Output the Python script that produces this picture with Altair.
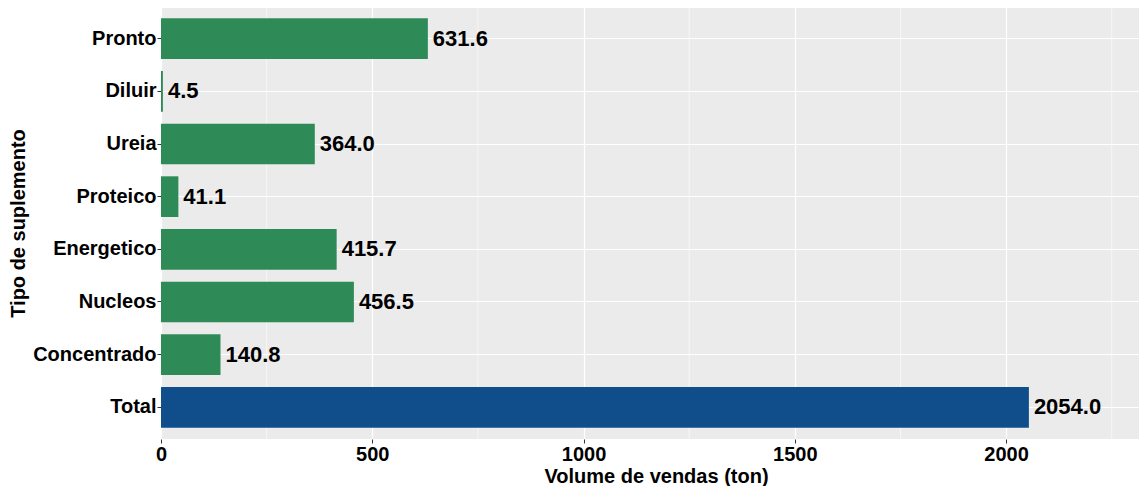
import altair as alt
import pandas as pd

categories = ["Pronto", "Diluir", "Ureia", "Proteico", "Energetico", "Nucleos", "Concentrado", "Total"]
volumes = [631.6, 4.5, 364.0, 41.1, 415.7, 456.5, 140.8, 2054.0]
groups = ["parte", "parte", "parte", "parte", "parte", "parte", "parte", "total"]
major_ticks = [0, 500, 1000, 1500, 2000]
minor_ticks = [250, 750, 1250, 1750, 2250]

df = pd.DataFrame({"tipo": categories, "volume": volumes, "grupo": groups})
minor_df = pd.DataFrame({"v": minor_ticks})

FONT = "Liberation Sans"
xscale = alt.Scale(domain=[0, 2343], nice=False, zero=True)
yscale = alt.Scale(domain=categories, paddingInner=0.227, paddingOuter=0.215)

minor = alt.Chart(minor_df).mark_rule(color="white", strokeWidth=0.6).encode(
    x=alt.X("v:Q", scale=xscale)
)

bars = alt.Chart(df).mark_bar().encode(
    x=alt.X(
        "volume:Q",
        scale=xscale,
        title="Volume de vendas (ton)",
        axis=alt.Axis(values=major_ticks, format="d", labelFlush=False),
    ),
    y=alt.Y("tipo:N", scale=yscale, sort=categories, title="Tipo de suplemento"),
    color=alt.Color(
        "grupo:N",
        scale=alt.Scale(domain=["parte", "total"], range=["#2E8B57", "#104E8B"]),
        legend=None,
    ),
)

labels = alt.Chart(df).mark_text(
    align="left", baseline="middle", dx=5, fontSize=22, fontWeight="bold", font=FONT, color="black"
).encode(
    x=alt.X("volume:Q", scale=xscale),
    y=alt.Y("tipo:N", scale=yscale, sort=categories),
    text=alt.Text("volume:Q", format=".1f"),
)

chart = (
    alt.layer(minor, bars, labels)
    .properties(width=990, height=432, padding={"left": 0, "top": -2, "right": -12, "bottom": 0})
    .configure_view(fill="#EBEBEB", stroke=None)
    .configure_axis(
        grid=True,
        gridColor="white",
        gridWidth=1.2,
        domain=False,
        tickColor="#333333",
        tickSize=4,
        tickWidth=1,
        labelFont=FONT,
        labelFontSize=20,
        labelFontWeight="bold",
        labelColor="black",
        titleFont=FONT,
        titleFontSize=20,
        titleFontWeight="bold",
        titleColor="black",
    )
    .configure_axisX(titlePadding=2, labelPadding=1)
    .configure_axisY(titlePadding=4, labelPadding=1)
)

chart.save("out.html", embed_options={"renderer": "svg", "actions": False})
